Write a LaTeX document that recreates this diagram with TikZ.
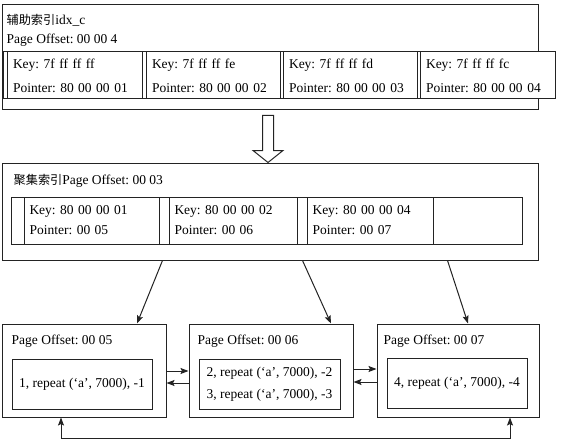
\documentclass[tikz,border=0pt]{standalone}
\usepackage{fontspec}
\setmainfont{Liberation Serif}
\newfontfamily\cjk[Scale=0.9]{Noto Sans CJK SC}
\usepackage{tikz}
\usetikzlibrary{positioning}
\usetikzlibrary{arrows.meta}
\definecolor{myline}{RGB}{35,35,35}
\frenchspacing

\begin{document}
\begin{tikzpicture}[x=1pt,y=-1pt,font=\fontsize{13.5}{16}\selectfont,
    box/.style={draw=myline,line width=1pt,rectangle,inner sep=0pt,fill=white},
    topcell/.style={box,minimum height=47pt,text width=#1,inner xsep=6pt,align=left,font=\fontsize{13.5}{24}\selectfont},
    midcell/.style={box,minimum height=47pt,text width=#1,inner xsep=5.5pt,align=left,font=\fontsize{13.5}{20}\selectfont},
    page/.style={box,minimum height=93pt},
    rec/.style={box,minimum height=50pt,align=center,font=\fontsize{13.5}{22}\selectfont},
    title/.style={anchor=base west,inner sep=2pt}]
	\useasboundingbox (0,0) rectangle (567,441);

	\node[box,minimum width=536pt,minimum height=105pt] (idxc) at (270,57.5) {};
	\node[title] (t1) at ([xshift=3pt,yshift=-20pt]idxc.north west) {{\cjk 辅助索引}idx\_c};
	\node[title] (t2) at ([xshift=3pt,yshift=-39pt]idxc.north west) {Page Offset: 00 00 4};
	\node[box,minimum width=552pt,minimum height=47pt] (row1) at (279,75.5) {};
	\node[topcell=123pt] (s1) at (74.5,75.5) {Key: 7f ff ff ff\\Pointer: 80 00 00 01};
	\node[topcell=122pt] (s2) at (213,75.5) {Key: 7f ff ff fe\\Pointer: 80 00 00 02};
	\node[topcell=122pt] (s3) at (350,75.5) {Key: 7f ff ff fd\\Pointer: 80 00 00 03};
	\node[topcell=123pt] (s4) at (487.5,75.5) {Key: 7f ff ff fc\\Pointer: 80 00 00 04};

	\node[box,minimum width=536pt,minimum height=97pt] (clus) at (270,211.5) {};
	\node[title] (t3) at ([xshift=10pt,yshift=-22pt]clus.north west) {{\cjk 聚集索引}Page Offset: 00 03};
	\node[box,minimum width=511pt,minimum height=47pt] (row2) at (266.5,220.5) {};
	\node[midcell=124pt] (c1) at (91.5,220.5) {Key: 80 00 00 01\\Pointer: 00 05};
	\node[midcell=117pt] (c2) at (233,220.5) {Key: 80 00 00 02\\Pointer: 00 06};
	\node[midcell=115pt] (c3) at (370,220.5) {Key: 80 00 00 04\\Pointer: 00 07};
	\node[box,minimum width=89pt,minimum height=47pt] (c4) at (477.5,220.5) {};

	\coordinate (tip) at ([xshift=-2pt]clus.north);
	\draw[myline,line width=1pt] (tip) -- ++(-15,-12) -- ++(9.5,0) -- ++(0,-35) -- ++(11,0)
	    -- ++(0,35) -- ++(9.5,0) -- cycle;

	\node[page,minimum width=164pt] (p5) at (84,370.5) {};
	\node[page,minimum width=164pt] (p6) at (271,370.5) {};
	\node[page,minimum width=162pt] (p7) at (458,370.5) {};
	\node[title] (t5) at ([xshift=8pt,yshift=-21pt]p5.north west) {Page Offset: 00 05};
	\node[title] (t6) at ([xshift=7pt,yshift=-21pt]p6.north west) {Page Offset: 00 06};
	\node[title] (t7) at ([xshift=5pt,yshift=-21pt]p7.north west) {Page Offset: 00 07};
	\node[rec,minimum width=140pt] (r5) at (82,384) {1, repeat (‘a’, 7000), -1};
	\node[rec,minimum width=141pt] (r6) at (269.5,384) {2, repeat (‘a’, 7000), -2\\3, repeat (‘a’, 7000), -3};
	\node[rec,minimum width=140pt] (r7) at (457,383.5) {4, repeat (‘a’, 7000), -4};

	\begin{scope}[>={Stealth[length=8pt,width=6pt,inset=1.5pt]},
	              every edge/.style={draw=myline,line width=1pt}]
	    \path [->] ([xshift=3pt]clus.south -| c1.east) edge ([xshift=53pt]p5.north);
	    \path [->] ([xshift=5pt]clus.south -| c2.east) edge ([xshift=60pt]p6.north);
	    \path [->] ([xshift=14pt]clus.south -| c3.east) edge ([xshift=10pt]p7.north);
	    \path [->] ([yshift=-0.5pt]p5.east) edge ([yshift=-0.5pt]p6.west);
	    \path [->] ([yshift=-12.5pt]p6.west) edge ([yshift=-12.5pt]p5.east);
	    \path [->] ([yshift=1.5pt]p6.east) edge ([yshift=1.5pt]p7.west);
	    \path [->] ([yshift=-11.5pt]p7.west) edge ([yshift=-11.5pt]p6.east);
	    \draw [<->,myline,line width=1pt] ([xshift=-23pt]p5.south) -- ++(0,21) -| ([xshift=52pt]p7.south);
	\end{scope}
\end{tikzpicture}
\end{document}
